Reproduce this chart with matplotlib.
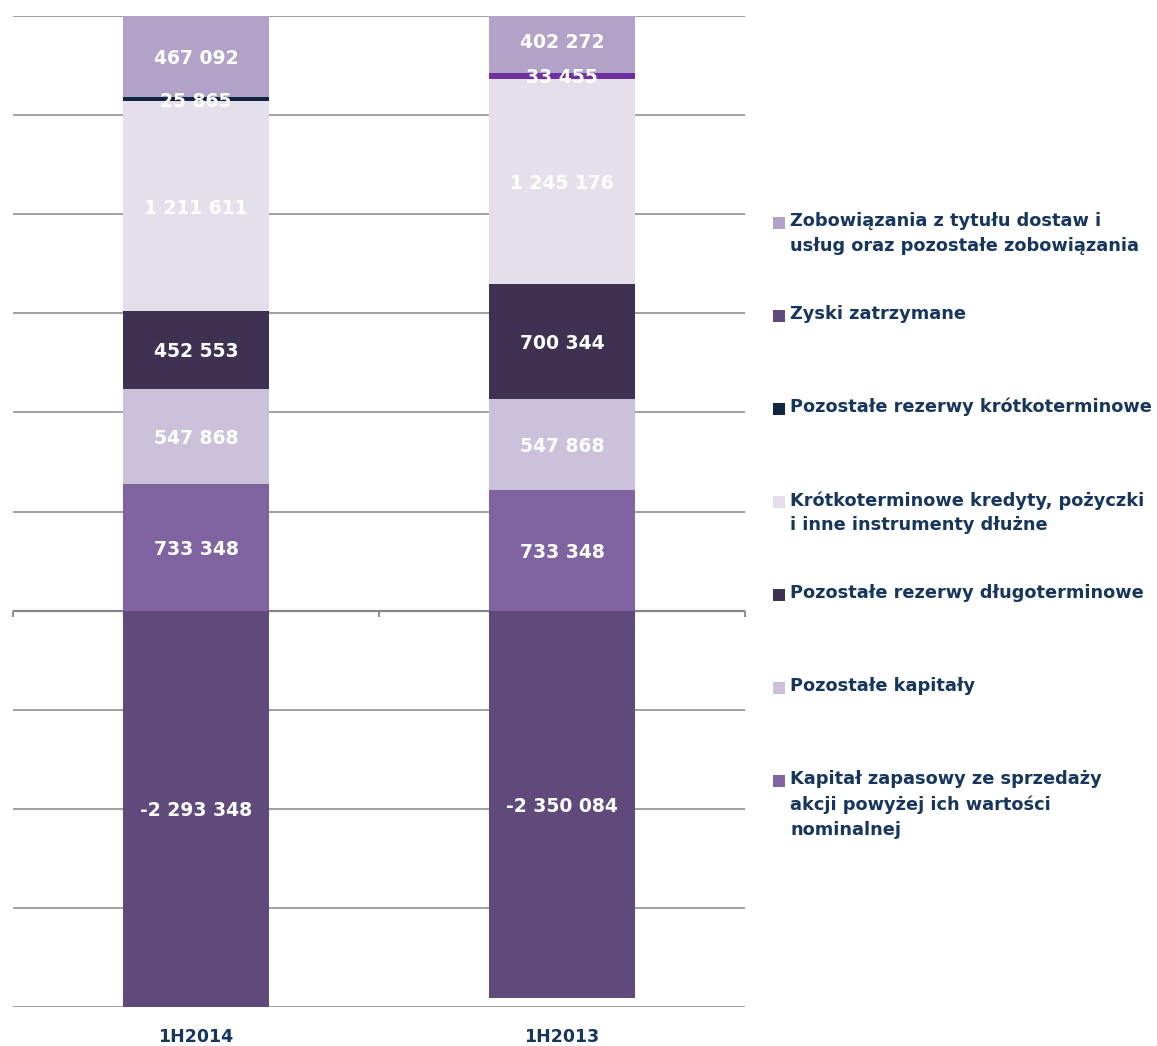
import numpy as np
import matplotlib.pyplot as plt
from matplotlib.patches import Rectangle

# categories and series (stacking order, bottom to top)
categories = ['1H2014', '1H2013']
series_names = [
    'Kapitał zapasowy ze sprzedaży\nakcji powyżej ich wartości\nnominalnej',
    'Pozostałe kapitały',
    'Pozostałe rezerwy długoterminowe',
    'Krótkoterminowe kredyty, pożyczki\ni inne instrumenty dłużne',
    'Pozostałe rezerwy krótkoterminowe',
    'Zyski zatrzymane',
    'Zobowiązania z tytułu dostaw i\nusług oraz pozostałe zobowiązania',
]
kapital_zapasowy = [733348, 733348]
pozostale_kapitaly = [547868, 547868]
rezerwy_dlugo = [452553, 700344]
kredyty_krotko = [1211611, 1245176]
rezerwy_krotko = [25865, 33455]
zyski_zatrzymane = [-2293348, -2350084]
zobowiazania = [467092, 402272]

values = [kapital_zapasowy, pozostale_kapitaly, rezerwy_dlugo, kredyty_krotko,
          rezerwy_krotko, zyski_zatrzymane, zobowiazania]
colors = ['#8064a2', '#ccc1da', '#3f3151', '#e5dfec', '#10253f', '#604a7b', '#b2a2c7']
# the thin short-term provisions segment is purple in the second bar
point_colors = {(4, 1): '#7030a0'}

navy = '#17365d'
plt.rcParams['font.family'] = 'DejaVu Sans'

W, H = 1157, 1046
fig = plt.figure(figsize=(W / 100, H / 100), dpi=100)
ax = fig.add_axes([13 / W, 1 - 1007 / H, (745 - 13) / W, (1007 - 16) / H])

vals = np.array(values, dtype=float)
totals = np.abs(vals).sum(axis=0)
pct = vals / totals  # 100% stacked, share of absolute total

x = np.arange(len(categories))
pos_bottom = np.zeros(len(categories))
neg_bottom = np.zeros(len(categories))
for i, row in enumerate(pct):
    for j, v in enumerate(row):
        if v >= 0:
            b = pos_bottom[j]
            pos_bottom[j] += v
        else:
            b = neg_bottom[j]
            neg_bottom[j] += v
        c = point_colors.get((i, j), colors[i])
        ax.bar(x[j], v, 0.4, bottom=b, color=c, zorder=2)
        label = f'{int(vals[i, j]):,}'.replace(',', ' ')
        ax.text(x[j], b + v / 2 - 0.002, label, ha='center', va='center', color='white',
                fontsize=13.5, fontweight='bold', zorder=5)

ax.set_xlim(-0.5, 1.5)
ax.set_ylim(-0.4, 0.6)
ax.set_yticks(np.arange(-0.4, 0.61, 0.1))
ax.yaxis.grid(True, color='#868686', linewidth=1.1, zorder=0)
ax.set_axisbelow(True)
ax.tick_params(axis='y', length=0, labelleft=False)
ax.set_xticks([])
for s in ax.spines.values():
    s.set_visible(False)
ax.axhline(0, color='#868686', linewidth=1.6, zorder=1)
for xb in [-0.5, 0.5, 1.5]:
    ax.plot([xb, xb], [0, -0.006], color='#868686', linewidth=1.3, zorder=1,
            clip_on=False, solid_capstyle='butt')

for j, cat in enumerate(categories):
    fig.text((13 + 366 * j + 183) / W, 1 - 1037 / H, cat, ha='center', va='center',
             color=navy, fontsize=12.5, fontweight='bold')

# legend drawn manually, reversed order
for k, i in enumerate(range(len(series_names) - 1, -1, -1)):
    yc = 222 + 93 * k
    fig.patches.append(Rectangle((773 / W, 1 - (yc + 7) / H), 12 / W, 12 / H,
                                 transform=fig.transFigure, facecolor=colors[i],
                                 edgecolor='none'))
    fig.text(790 / W, 1 - (yc - 10) / H, series_names[i], ha='left', va='top',
             color=navy, fontsize=12.8, fontweight='bold', linespacing=1.5)

plt.savefig('out.png', dpi=100)
